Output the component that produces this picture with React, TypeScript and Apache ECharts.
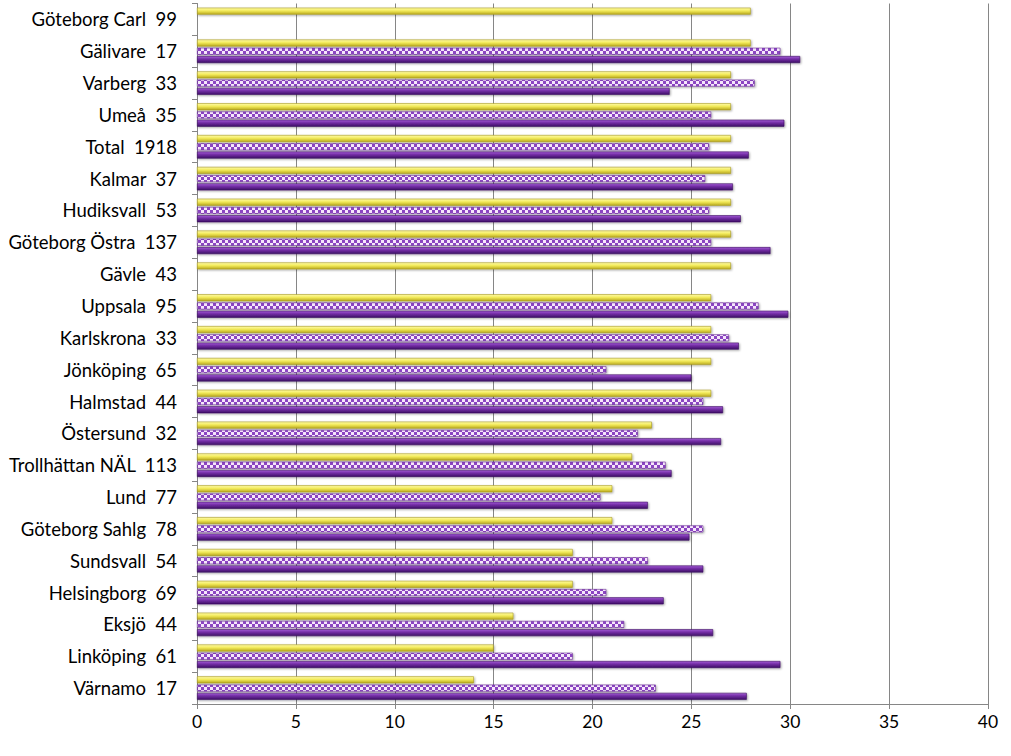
import React, { useEffect, useRef } from "react";
import * as echarts from "echarts";

const categories = [
  "Göteborg Carl", "Gälivare", "Varberg", "Umeå", "Total", "Kalmar", "Hudiksvall",
  "Göteborg Östra", "Gävle", "Uppsala", "Karlskrona", "Jönköping", "Halmstad",
  "Östersund", "Trollhättan NÄL", "Lund", "Göteborg Sahlg", "Sundsvall",
  "Helsingborg", "Eksjö", "Linköping", "Värnamo",
];
const counts = [99, 17, 33, 35, 1918, 37, 53, 137, 43, 95, 33, 65, 44, 32, 113, 77, 78, 54, 69, 44, 61, 17];

const yellowValues = [28, 28, 27, 27, 27, 27, 27, 27, 27, 26, 26, 26, 26, 23, 22, 21, 21, 19, 19, 16, 15, 14];
const checkValues = [null, 29.5, 28.2, 26, 25.9, 25.7, 25.9, 26, null, 28.4, 26.9, 20.7, 25.6, 22.3, 23.7, 20.4, 25.6, 22.8, 20.7, 21.6, 19, 23.2];
const purpleValues = [null, 30.5, 23.9, 29.7, 27.9, 27.1, 27.5, 29, null, 29.9, 27.4, 25, 26.6, 26.5, 24, 22.8, 24.9, 25.6, 23.6, 26.1, 29.5, 27.8];

const xTicks = { min: 0, max: 40, interval: 5 };

function makeChecker(): HTMLCanvasElement {
  const c = document.createElement("canvas");
  c.width = 6;
  c.height = 6;
  const ctx = c.getContext("2d")!;
  ctx.fillStyle = "#F6E6FB";
  ctx.fillRect(0, 0, 6, 6);
  ctx.fillStyle = "#8B45C2";
  ctx.fillRect(0, 0, 3, 3);
  ctx.fillRect(3, 3, 3, 3);
  return c;
}

export default function App() {
  const ref = useRef<HTMLDivElement>(null);
  useEffect(() => {
    if (!ref.current) return;
    const chart = echarts.init(ref.current, undefined, { renderer: "svg" });
    const labels = categories.map((c, i) => `${c}  ${counts[i]}`);
    const shadow = {
      shadowBlur: 2,
      shadowOffsetX: 1,
      shadowOffsetY: 1,
      shadowColor: "rgba(0,0,0,0.35)",
    };
    const checker = makeChecker();
    chart.setOption({
      animation: false,
      grid: { left: 197, right: 23, top: 3.5, bottom: 52, containLabel: false },
      xAxis: {
        type: "value",
        min: xTicks.min,
        max: xTicks.max,
        interval: xTicks.interval,
        axisLine: { show: true, lineStyle: { color: "#868686", width: 1 } },
        axisTick: { show: true, length: 5, lineStyle: { color: "#868686" } },
        splitLine: { show: true, lineStyle: { color: "#868686", width: 1 } },
        axisLabel: {
          color: "#000",
          fontSize: 17.5,
          fontFamily: "Lato, 'Noto Sans', sans-serif",
          margin: 8,
        },
      },
      yAxis: {
        type: "category",
        inverse: true,
        data: labels,
        axisLine: { show: true, lineStyle: { color: "#868686", width: 1 } },
        axisTick: { show: true, length: 5, lineStyle: { color: "#868686" } },
        axisLabel: {
          color: "#000",
          fontSize: 18.5,
          fontFamily: "Lato, 'Noto Sans', sans-serif",
          margin: 20,
        },
        splitLine: { show: false },
      },
      series: [
        {
          name: "A",
          type: "bar",
          data: yellowValues,
          barWidth: 7,
          barGap: "18%",
          itemStyle: {
            color: new echarts.graphic.LinearGradient(0, 0, 0, 1, [
              { offset: 0, color: "#FFFBA8" },
              { offset: 0.45, color: "#F2EA5A" },
              { offset: 1, color: "#B9A91E" },
            ]),
            borderColor: "#A89A20",
            borderWidth: 0.6,
            ...shadow,
          },
        },
        {
          name: "B",
          type: "bar",
          data: checkValues,
          barWidth: 7,
          barGap: "18%",
          itemStyle: {
            color: { image: checker, repeat: "repeat", imageWidth: 6, imageHeight: 6 },
            borderColor: "#6A2E96",
            borderWidth: 0.6,
            ...shadow,
          },
        },
        {
          name: "C",
          type: "bar",
          data: purpleValues,
          barWidth: 7,
          barGap: "18%",
          itemStyle: {
            color: new echarts.graphic.LinearGradient(0, 0, 0, 1, [
              { offset: 0, color: "#A45CD6" },
              { offset: 0.4, color: "#7630A8" },
              { offset: 1, color: "#3E0F66" },
            ]),
            borderColor: "#3A0E60",
            borderWidth: 0.6,
            ...shadow,
          },
        },
      ],
    });
    return () => chart.dispose();
  }, []);
  return (
    <div
      ref={ref}
      style={{ position: "fixed", left: 0, top: 0, width: 1011, height: 756, background: "#fff" }}
    />
  );
}
